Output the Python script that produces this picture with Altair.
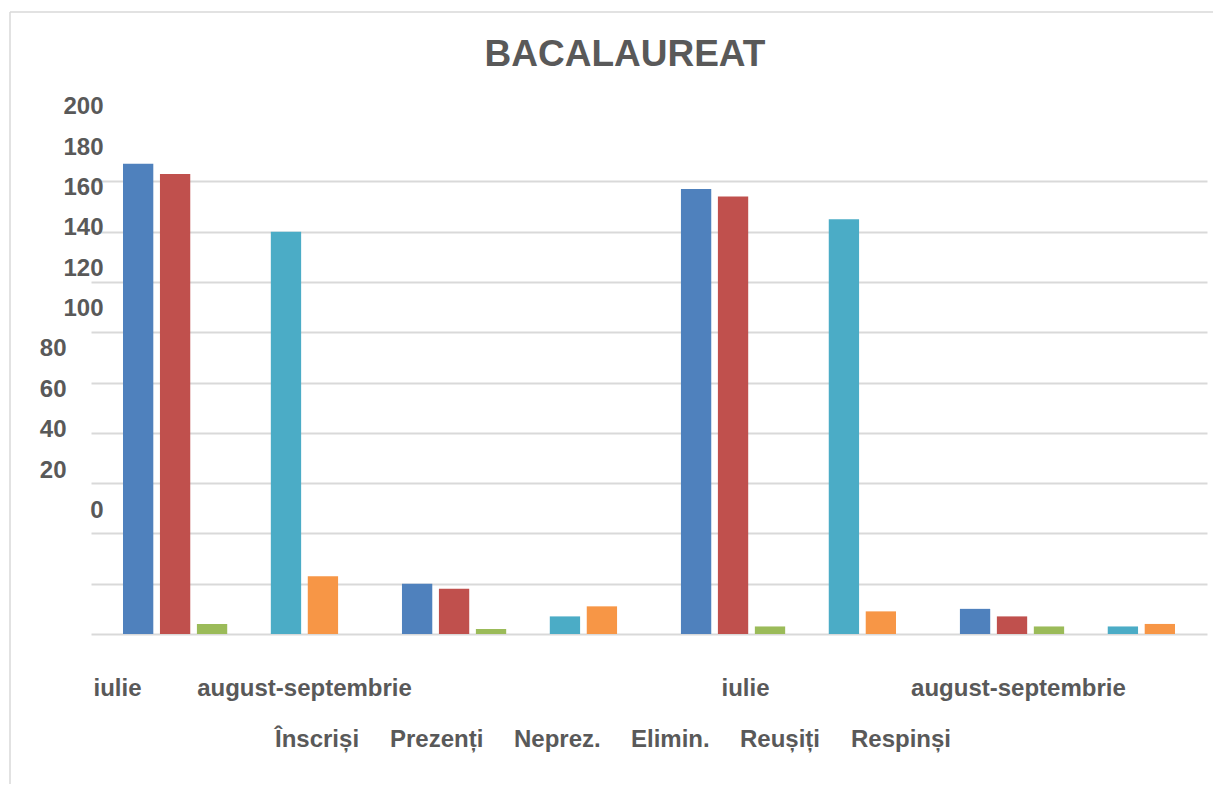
import altair as alt
import pandas as pd

# ---- data ----
groups = ["iulie_1", "august-septembrie_1", "iulie_2", "august-septembrie_2"]
series = ["Înscriși", "Prezenți", "Neprez.", "Elimin.", "Reușiți", "Respinși"]
inscrisi = [187, 20, 177, 10]
prezenti = [183, 18, 174, 7]
neprez = [4, 2, 3, 3]
elimin = [0, 0, 0, 0]
reusiti = [160, 7, 165, 3]
respinsi = [23, 11, 9, 4]
colors = ["#4F81BD", "#C0504D", "#9BBB59", "#8064A2", "#4BACC6", "#F79646"]
grid_values = [0, 20, 40, 60, 80, 100, 120, 140, 160, 180]
label_values = [0, 20, 40, 60, 80, 100, 120, 140, 160, 180, 200]
title_text = "BACALAUREAT"

rows = []
for s, vals in zip(series, [inscrisi, prezenti, neprez, elimin, reusiti, respinsi]):
    for g, v in zip(groups, vals):
        rows.append({"grupa": g, "serie": s, "valoare": v})
df = pd.DataFrame(rows)

FONT = "Liberation Sans"
GREY = "#595959"
W, H = 1116, 528

bars = alt.Chart(df).mark_bar().encode(
    x=alt.X(
        "grupa:N",
        sort=groups,
        scale=alt.Scale(domain=groups, paddingInner=0.229, paddingOuter=0.1147),
        axis=alt.Axis(
            title=None, domain=False, ticks=False, tickSize=0, labelAngle=0,
            labelExpr="split(datum.label, '_')[0]",
            labelFont=FONT, labelFontSize=24, labelFontWeight="bold", labelColor=GREY,
            labelLimit=500, labelPadding=42,
            labelOffset={
                "condition": [
                    {"test": "datum.value == 'iulie_1'", "value": -113},
                    {"test": "datum.value == 'august-septembrie_1'", "value": -205},
                    {"test": "datum.value == 'iulie_2'", "value": -43},
                ],
                "value": -49,
            },
        ),
    ),
    xOffset=alt.XOffset(
        "serie:N", sort=series,
        scale=alt.Scale(domain=series, paddingInner=0.18, paddingOuter=0),
    ),
    y=alt.Y(
        "valoare:Q",
        scale=alt.Scale(domain=[0, 210], nice=False),
        axis=alt.Axis(
            orient="left", values=grid_values, labels=False, ticks=False, tickSize=0,
            domain=False, grid=True, gridColor="#D9D9D9", gridWidth=2, title=None,
        ),
    ),
    color=alt.Color(
        "serie:N", sort=series,
        scale=alt.Scale(domain=series, range=colors),
        legend=alt.Legend(
            orient="none", legendX=160, legendY=622, direction="horizontal",
            columns=6, title=None, symbolOpacity=0, symbolStrokeWidth=0,
            symbolSize=100, labelOffset=0, columnPadding=6,
            labelFont=FONT, labelFontSize=24, labelFontWeight="bold",
            labelColor=GREY, labelLimit=300, padding=0,
        ),
    ),
)

ylab = alt.Chart(pd.DataFrame({"v": label_values})).mark_point(opacity=0).encode(
    y=alt.Y(
        "v:Q",
        scale=alt.Scale(domain=[-61.17, 200.35], nice=False, zero=False),
        axis=alt.Axis(
            orient="left", values=label_values, grid=False, ticks=False, tickSize=0,
            domain=False, title=None, labelOverlap=False, labelFlush=False,
            labelFont=FONT, labelFontSize=24, labelFontWeight="bold", labelColor=GREY,
            labelPadding={
                "condition": {"test": "datum.value >= 100 || datum.value == 0", "value": -12},
                "value": 25,
            },
        ),
    ),
)

one = pd.DataFrame({"titlu": [title_text]})
frame_left = alt.Chart(one).mark_rule(color="#D9D9D9", strokeWidth=1.5).encode(
    x=alt.value(-81), y=alt.value(-94), y2=alt.value(H + 200)
)
frame_top = alt.Chart(one).mark_rule(color="#D9D9D9", strokeWidth=1.5).encode(
    x=alt.value(-81), x2=alt.value(W + 40), y=alt.value(-94)
)
title = alt.Chart(one).mark_text(
    font=FONT, fontSize=37, fontWeight="bold", color=GREY,
    align="center", baseline="alphabetic",
).encode(text="titlu:N", x=alt.value(534), y=alt.value(-40))

chart = (
    alt.layer(frame_left, frame_top, title, bars, ylab)
    .resolve_scale(y="independent")
    .properties(
        width=W, height=H,
        autosize=alt.AutoSizeParams(type="none"),
        padding={"left": 83, "top": 98, "right": 6, "bottom": 150},
    )
    .configure_view(stroke=None)
)

chart.save("out.html", embed_options={"renderer": "svg", "actions": False})
